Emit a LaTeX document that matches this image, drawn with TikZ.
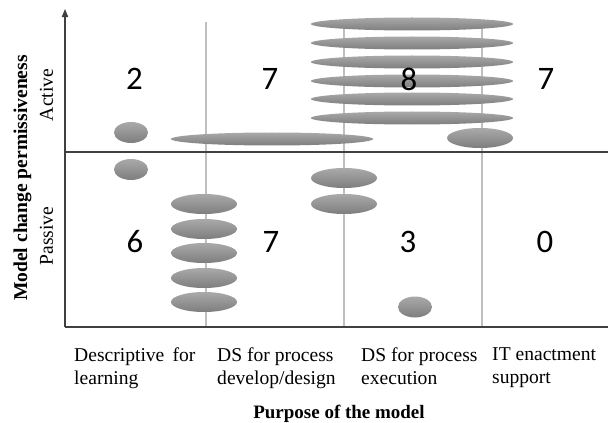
\documentclass[tikz,border=0pt]{standalone}
\usepackage{fontspec}
\setmainfont{Liberation Serif}
\newfontfamily\numfont{Carlito}
\usepackage{tikz}
\usetikzlibrary{shapes.geometric, arrows.meta, positioning}

\definecolor{axisgray}{HTML}{404040}
\definecolor{gridgray}{HTML}{BFBFBF}
\definecolor{blobtop}{HTML}{A9A9A9}
\definecolor{blobbot}{HTML}{7E7E7E}

\begin{document}
\begin{tikzpicture}[
    x=0.03cm, y=-0.03cm,
    blob/.style={ellipse, draw=none, inner sep=0pt, top color=blobtop, bottom color=blobbot},
    small/.style={blob, minimum width=1.02cm, minimum height=0.63cm},
    medium/.style={blob, minimum width=1.98cm, minimum height=0.6cm},
    wide/.style={blob, minimum width=6.06cm, minimum height=0.39cm},
    count/.style={font=\numfont\fontsize{28}{28}\selectfont},
    label/.style={font=\fontsize{16.7}{19.9}\selectfont},
    purpose/.style={label, anchor=north west, inner sep=0pt, align=left},
    axis/.style={draw=axisgray, line width=0.9pt},
    grid/.style={draw=gridgray, line width=0.9pt}
]
    \useasboundingbox (0,0) rectangle (608,423);

    % Axis corners
    \coordinate (origin) at (65,327);
    \coordinate (ytop) at (65,9);
    \coordinate (xend) at (608,327);
    \coordinate (midl) at (65,152);
    \coordinate (midr) at (608,152);

    % Grid lines between the purposes
    \foreach \x/\name in {206/ga, 344/gb, 482/gc} {
        \coordinate (\name top) at (\x,22);
        \coordinate (\name bot) at (\x,327);
        \draw[grid] (\name top) -- (\name bot);
    }

    % Axes
    \draw[axis, -{Triangle[length=7pt, width=5.5pt]}] (origin) -- (ytop);
    \draw[axis] (origin) -- (xend);
    \draw[axis] (midl) -- (midr);

    % Ellipses (Active row)
    \node[small] (sa1) at (131,132.5) {};
    \node[wide] (la1) at (272,139) {};
    \foreach \y [count=\i] in {24,43,62,81,99,118}
        \node[wide] (wa\i) at (412,\y) {};
    \node[medium] (ma1) at (480,138) {};

    % Ellipses (Passive row)
    \node[small] (sp1) at (131,169.5) {};
    \foreach \y [count=\i] in {204,229,253,278,302}
        \node[medium] (mp\i) at (204,\y) {};
    \node[medium] (mq1) at (344,178) {};
    \node[medium] (mq2) at (344,204) {};
    \node[small] (sp2) at (415,307) {};

    % Counts (Active row)
    \foreach \x/\n/\name in {134.5/2/actA, 270/7/actB, 409/8/actC, 546/7/actD}
        \node[count] (\name) at (\x,79) {\n};
    % Counts (Passive row)
    \foreach \x/\n/\name in {135/6/pasA, 271/7/pasB, 408/3/pasC, 545/0/pasD}
        \node[count] (\name) at (\x,242) {\n};

    % Axis labels
    \node[label, font=\fontsize{16.7}{19.9}\selectfont\bfseries, rotate=90, anchor=base] (ylab) at (27,178) {Model change permissiveness};
    \node[label, rotate=90, anchor=base] (active) at (53,95) {Active};
    \node[label, rotate=90, anchor=base] (passive) at (53,236) {Passive};

    % Purposes
    \node[purpose] (learn) at (74,347.5) {Descriptive\, for\\learning};
    \node[purpose] (design) at (217,347.5) {DS for process\\develop/design};
    \node[purpose] (exec) at (361,347.5) {DS for process\\execution};
    \node[purpose] (itsup) at (492,347.5) {IT enactment\\support};
    \node[label, font=\fontsize{16.2}{19.9}\selectfont\bfseries, anchor=base] (xlab) at (339,418) {Purpose of the model};
\end{tikzpicture}
\end{document}
